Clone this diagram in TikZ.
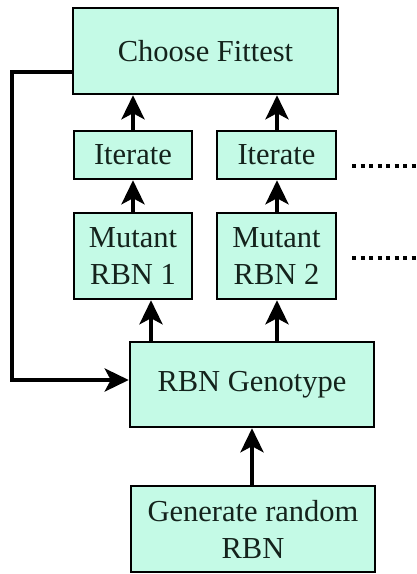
\documentclass[tikz,border=0pt]{standalone}
\usepackage{fontspec}
\setmainfont{Liberation Serif}
\usetikzlibrary{arrows.meta}
\definecolor{boxfill}{RGB}{196,250,230}
\definecolor{txt}{RGB}{20,35,28}
\tikzset{
  box/.style={draw=black, line width=2.5pt, fill=boxfill, inner sep=0pt, align=center,
    font=\fontsize{30.5}{37}\selectfont, text=txt},
  tip/.tip={Stealth[length=24pt,width=23pt,inset=6pt]},
  arr/.style={line width=4pt, -tip},
  fb/.style={line width=4pt, line join=miter, -tip},
  dots/.style={line width=4pt, dash pattern=on 4pt off 4.5pt}
}
\begin{document}
\begin{tikzpicture}[x=1pt,y=-1pt]
\useasboundingbox (0,0) rectangle (416,574);
\node[box, minimum width=265pt, minimum height=86pt] (choose) at (205.5,51) {Choose Fittest};
\node[box, minimum width=118pt, minimum height=48pt] (it1) at (133,155) {Iterate};
\node[box, minimum width=119pt, minimum height=48pt] (it2) at (276.5,155) {Iterate};
\node[box, minimum width=118pt, minimum height=86pt] (mu1) at (133,256) {Mutant\\RBN 1};
\node[box, minimum width=119pt, minimum height=86pt] (mu2) at (276.5,256) {Mutant\\RBN 2};
\node[box, minimum width=244pt, minimum height=85pt] (geno) at (252,384.5) {RBN Genotype};
\node[box, minimum width=244pt, minimum height=86pt] (gen) at (253,529) {Generate random\\RBN};
\coordinate (xa) at (151,0);
\coordinate (xb) at (277,0);
\coordinate (xc) at (252,0);
\coordinate (fbtop) at (12,72);
\coordinate (fbbot) at (12,380);
\coordinate (d1a) at (352,166);
\coordinate (d1b) at (416,166);
\coordinate (d2a) at (352,258);
\coordinate (d2b) at (416,258);
\draw[arr] (it1.north) -- (choose.south -| it1.north);
\draw[arr] (it2.north -| xb) -- (choose.south -| xb);
\draw[arr] (mu1.north) -- (it1.south);
\draw[arr] (mu2.north -| xb) -- (it2.south -| xb);
\draw[arr] (geno.north -| xa) -- (mu1.south -| xa);
\draw[arr] (geno.north -| xb) -- (mu2.south -| xb);
\draw[arr] (gen.north -| xc) -- (geno.south -| xc);
\draw[fb] (choose.west |- fbtop) -- (fbtop) -- (fbbot) -- (geno.west |- fbbot);
\draw[dots] (d1a) -- (d1b);
\draw[dots] (d2a) -- (d2b);
\end{tikzpicture}
\end{document}
